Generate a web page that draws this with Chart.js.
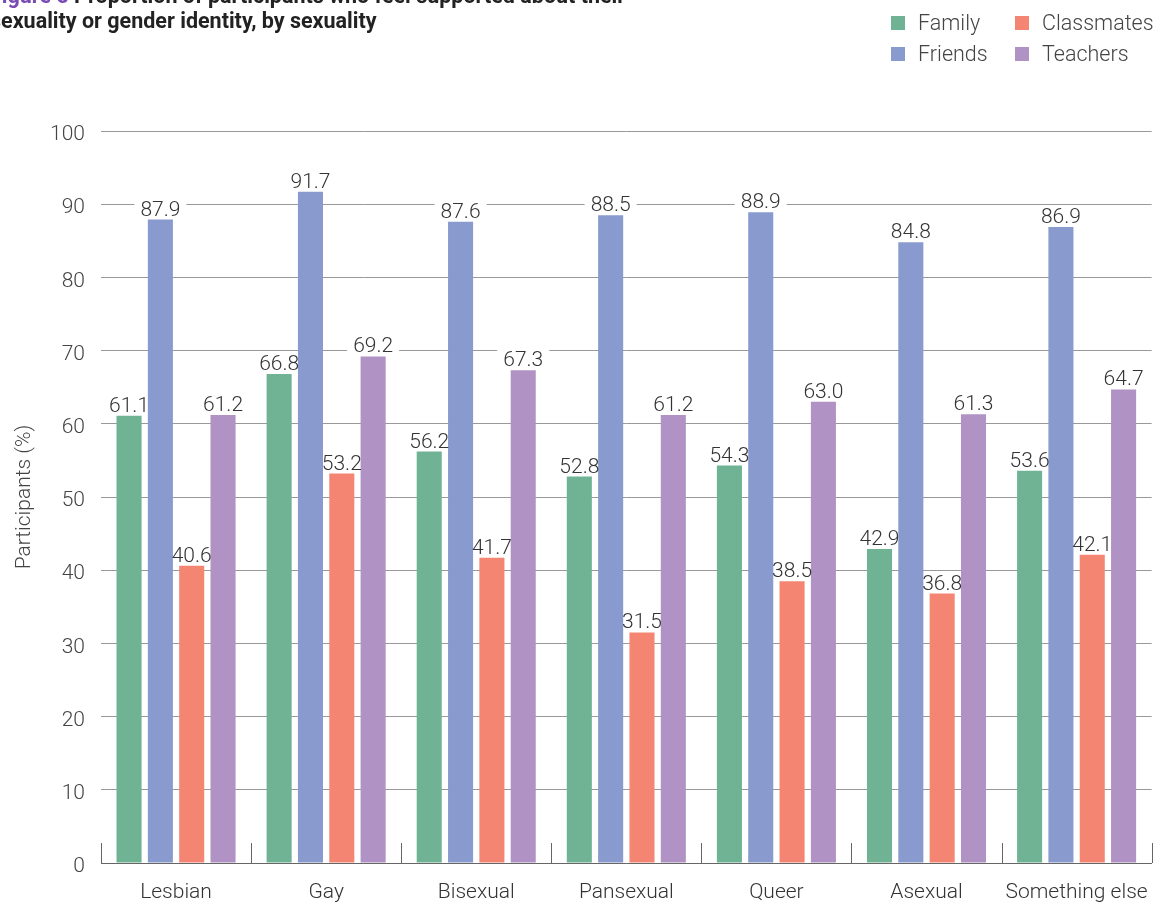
<!DOCTYPE html>
<html>
<head>
<meta charset="utf-8">
<script src="https://cdn.jsdelivr.net/npm/chart.js@4.4.0/dist/chart.umd.min.js"></script>
<style>
  html, body { margin: 0; padding: 0; background: #fff; overflow: hidden; }
  #wrap { position: relative; width: 1157px; height: 902px; }
  #title {
    position: absolute; left: -10px; top: -17px; width: 800px;
    font-family: Roboto, sans-serif; font-weight: 700; font-size: 21.5px;
    line-height: 25px; color: #222;
  }
  #title .fig { color: #7a4bb3; }
  #legend {
    position: absolute; left: 891px; top: 7px;
    display: grid; grid-auto-flow: column; grid-template-rows: 31px 31px;
    grid-template-columns: 124px 140px;
    font-family: Roboto, sans-serif; font-size: 21.5px; color: #444; font-weight: 300;
  }
  #legend div { display: flex; align-items: center; white-space: nowrap; }
  #legend span.sw { display: inline-block; flex-shrink: 0; width: 14px; height: 14px; margin-right: 13px; }
  canvas { position: absolute; left: 0; top: 0; }
</style>
</head>
<body>
<div id="wrap">
  <canvas id="chart" width="1157" height="902"></canvas>
  <div id="title"><span class="fig">Figure 5</span> Proportion of participants who feel supported about their<br>sexuality or gender identity, by sexuality</div>
  <div id="legend"></div>
</div>
<script>
// data
const kategori = ['Lesbian', 'Gay', 'Bisexual', 'Pansexual', 'Queer', 'Asexual', 'Something else'];
const family     = [61.1, 66.8, 56.2, 52.8, 54.3, 42.9, 53.6];
const friends    = [87.9, 91.7, 87.6, 88.5, 88.9, 84.8, 86.9];
const classmates = [40.6, 53.2, 41.7, 31.5, 38.5, 36.8, 42.1];
const teachers   = [61.2, 69.2, 67.3, 61.2, 63.0, 61.3, 64.7];
const yTicks = [0, 10, 20, 30, 40, 50, 60, 70, 80, 90, 100];

const warna = {
    family: '#6fb394',
    friends: '#899bce',
    classmates: '#f58573',
    teachers: '#b092c4'
};

// legend 2 kolom
const legendItems = [
    ['Family', warna.family], ['Friends', warna.friends],
    ['Classmates', warna.classmates], ['Teachers', warna.teachers]
];
const legendEl = document.getElementById('legend');
legendItems.forEach(function(it) {
    const d = document.createElement('div');
    d.innerHTML = '<span class="sw" style="background:' + it[1] + '"></span>' + it[0];
    legendEl.appendChild(d);
});

const FONT = 'Roboto, sans-serif';
const FS = 21;

// label nilai di atas bar, dengan latar putih supaya gridline terputus
const labelPlugin = {
    id: 'nilaiLabel',
    beforeDatasetsDraw(chart) {
        const ctx = chart.ctx;
        ctx.save();
        ctx.font = '300 ' + FS + 'px ' + FONT;
        chart.data.datasets.forEach(function(ds, i) {
            chart.getDatasetMeta(i).data.forEach(function(bar, j) {
                const txt = ds.data[j].toFixed(1);
                const w = ctx.measureText(txt).width;
                ctx.fillStyle = '#fff';
                ctx.fillRect(bar.x - w / 2 - 6, bar.y - 21, w + 12, 16);
            });
        });
        ctx.restore();
    },
    afterDatasetsDraw(chart) {
        const ctx = chart.ctx;
        ctx.save();
        ctx.font = '300 ' + FS + 'px ' + FONT;
        ctx.fillStyle = '#333';
        ctx.textAlign = 'center';
        ctx.textBaseline = 'alphabetic';
        chart.data.datasets.forEach(function(ds, i) {
            chart.getDatasetMeta(i).data.forEach(function(bar, j) {
                ctx.fillText(ds.data[j].toFixed(1), bar.x, bar.y - 4);
            });
        });
        ctx.restore();
    }
};

// tick kecil ke atas di batas kategori
const tickPlugin = {
    id: 'tickAtas',
    afterDraw(chart) {
        const x = chart.scales.x;
        const ctx = chart.ctx;
        const n = kategori.length;
        const lebar = (x.right - x.left) / n;
        ctx.save();
        ctx.strokeStyle = '#666';
        ctx.lineWidth = 1;
        for (let i = 0; i <= n; i++) {
            const px = Math.round(x.left + i * lebar) + 0.5;
            ctx.beginPath();
            ctx.moveTo(px, x.top);
            ctx.lineTo(px, x.top - 20);
            ctx.stroke();
        }
        ctx.restore();
    }
};

function ds(label, data, color) {
    return {
        label: label,
        data: data,
        backgroundColor: color,
        borderWidth: 0,
        categoryPercentage: 0.835,
        barPercentage: 0.8
    };
}

new Chart(document.getElementById('chart').getContext('2d'), {
    type: 'bar',
    data: {
        labels: kategori,
        datasets: [
            ds('Family', family, warna.family),
            ds('Friends', friends, warna.friends),
            ds('Classmates', classmates, warna.classmates),
            ds('Teachers', teachers, warna.teachers)
        ]
    },
    options: {
        responsive: false,
        animation: false,
        layout: { padding: { top: 131, right: 5, left: 12, bottom: 0 } },
        plugins: {
            legend: { display: false },
            tooltip: { enabled: false }
        },
        scales: {
            x: {
                afterFit: function(s) { s.height = 39; },
                grid: { display: false },
                border: { display: true, color: '#666', width: 1 },
                ticks: { font: { family: FONT, size: FS, weight: '300' }, color: '#333', padding: 9 }
            },
            y: {
                min: 0,
                max: 100,
                afterFit: function(s) { s.width = 89; },
                afterBuildTicks: function(s) { s.ticks = yTicks.map(function(v) { return { value: v }; }); },
                grid: { color: '#999', lineWidth: 1, drawTicks: false },
                border: { display: false },
                ticks: { font: { family: FONT, size: FS, weight: '300' }, color: '#444', padding: 16, labelOffset: 4 },
                title: {
                    display: true,
                    text: 'Participants (%)',
                    font: { family: FONT, size: FS, weight: '300' },
                    color: '#444',
                    padding: { top: 0, bottom: 0 }
                }
            }
        }
    },
    plugins: [labelPlugin, tickPlugin]
});
</script>
</body>
</html>
